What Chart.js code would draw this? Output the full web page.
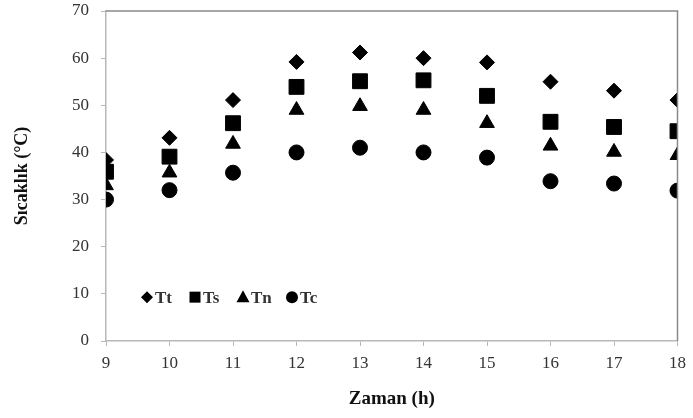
<!DOCTYPE html>
<html>
<head>
<meta charset="utf-8">
<script src="https://cdn.jsdelivr.net/npm/chart.js@4"></script>
<style>
  body { margin: 0; background: #fff; }
  #wrap { width: 693px; height: 418px; }
</style>
</head>
<body>
<div id="wrap"><canvas id="chart1" width="693" height="418"></canvas></div>
<script>
const hours = [9, 10, 11, 12, 13, 14, 15, 16, 17, 18];
const tt = [38.4, 43.1, 51.1, 59.2, 61.2, 60.0, 59.1, 55.0, 53.1, 51.1];
const ts = [35.9, 39.1, 46.2, 53.9, 55.1, 55.3, 52.0, 46.5, 45.4, 44.5];
const tn = [33.0, 35.7, 41.8, 49.0, 49.8, 49.0, 46.2, 41.4, 40.1, 39.4];
const tc = [30.0, 32.0, 35.7, 40.0, 41.0, 40.0, 38.9, 33.9, 33.4, 31.9];
const seriesNames = ['Tt', 'Ts', 'Tn', 'Tc'];

const serif = "'Liberation Serif', 'Times New Roman', serif";

function pts(vals) {
  return hours.map((h, i) => ({ x: h, y: vals[i] }));
}

// top and right frame lines + legend inside plot
const framePlugin = {
  id: 'frame',
  afterDraw(chart) {
    const ctx = chart.ctx;
    const a = chart.chartArea;
    ctx.save();
    ctx.strokeStyle = '#8a8a8a';
    ctx.lineWidth = 1.5;
    ctx.beginPath();
    ctx.moveTo(a.left, a.top);
    ctx.lineTo(a.right, a.top);
    ctx.lineTo(a.right, a.bottom);
    ctx.stroke();

    // legend
    const y = chart.scales.y.getPixelForValue(9.3);
    const xs = [147, 195, 243, 292];
    ctx.font = 'bold 17px ' + serif;
    ctx.textBaseline = 'middle';
    xs.forEach((x, i) => {
      ctx.fillStyle = '#000';
      ctx.beginPath();
      if (i === 0) {
        ctx.moveTo(x, y - 6); ctx.lineTo(x + 6, y); ctx.lineTo(x, y + 6); ctx.lineTo(x - 6, y);
      } else if (i === 1) {
        ctx.rect(x - 5.5, y - 5.5, 11, 11);
      } else if (i === 2) {
        ctx.moveTo(x, y - 7); ctx.lineTo(x + 6.5, y + 5); ctx.lineTo(x - 6.5, y + 5);
      } else {
        ctx.arc(x, y, 6, 0, Math.PI * 2);
      }
      ctx.closePath();
      ctx.fill();
      ctx.fillStyle = '#333';
      ctx.fillText(seriesNames[i], x + 8, y + 1);
    });
    ctx.restore();
  }
};

new Chart(document.getElementById('chart1'), {
  type: 'scatter',
  data: {
    datasets: [
      { label: 'Tt', data: pts(tt), pointStyle: 'rectRot', pointRadius: 7.5, backgroundColor: '#000', borderColor: '#000' },
      { label: 'Ts', data: pts(ts), pointStyle: 'rect', pointRadius: 10.5, backgroundColor: '#000', borderColor: '#000' },
      { label: 'Tn', data: pts(tn), pointStyle: 'triangle', pointRadius: 8.5, backgroundColor: '#000', borderColor: '#000' },
      { label: 'Tc', data: pts(tc), pointStyle: 'circle', pointRadius: 7.5, backgroundColor: '#000', borderColor: '#000' }
    ]
  },
  options: {
    responsive: false,
    maintainAspectRatio: false,
    animation: false,
    layout: { autoPadding: false, padding: { top: 11, right: 15, left: 0, bottom: 0 } },
    plugins: {
      legend: { display: false },
      tooltip: { enabled: false }
    },
    scales: {
      x: {
        type: 'linear',
        min: 9,
        max: 18,
        afterFit(axis) { axis.height = 77; },
        ticks: { stepSize: 1, color: '#333', padding: 7, font: { family: serif, size: 17 } },
        grid: { drawOnChartArea: false, drawTicks: true, tickLength: 5, color: '#b8b8b8' },
        border: { color: '#b8b8b8', width: 1.5 },
        title: { display: true, text: 'Zaman (h)', color: '#111', padding: { top: 4, bottom: 8 }, font: { family: serif, size: 19, weight: 'bold' } }
      },
      y: {
        min: 0,
        max: 70,
        afterFit(axis) {
          axis.width = 106;
          axis.paddingTop = 0;
          axis.paddingBottom = 0;
        },
        ticks: { stepSize: 10, color: '#333', padding: 12, font: { family: serif, size: 17 } },
        grid: { drawOnChartArea: false, drawTicks: true, tickLength: 5, color: '#b8b8b8' },
        border: { color: '#b8b8b8', width: 1.5 },
        title: { display: true, text: 'Sıcaklık (°C)', color: '#111', padding: { top: 12, bottom: 0 }, font: { family: serif, size: 18, weight: 'bold' } }
      }
    }
  },
  plugins: [framePlugin]
});
</script>
</body>
</html>
